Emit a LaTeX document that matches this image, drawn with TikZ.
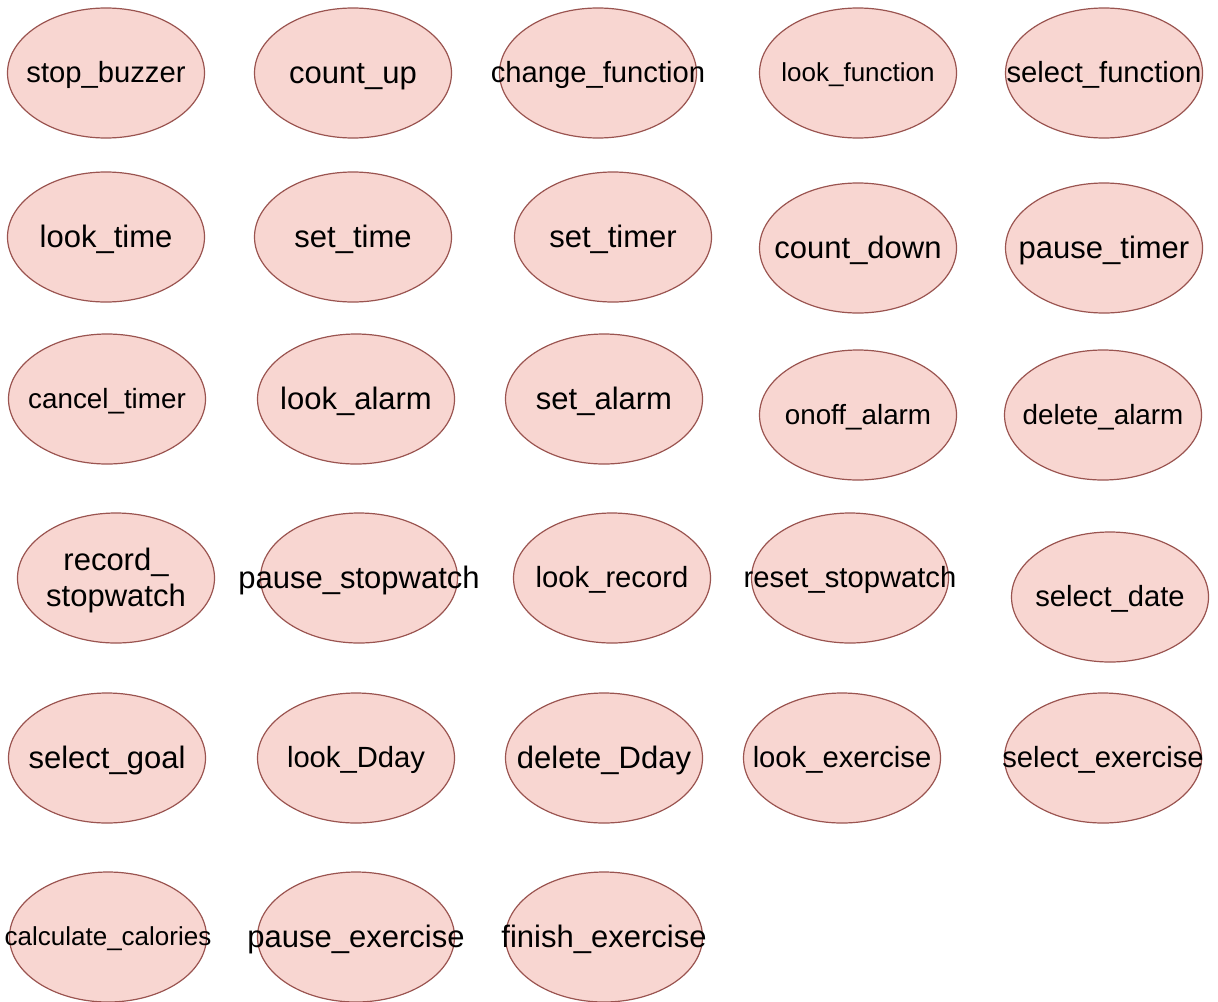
\documentclass[tikz,border=0pt]{standalone}
\usepackage{fontspec}
\setmainfont{Liberation Sans}
\usetikzlibrary{shapes.geometric}
\definecolor{ucfill}{HTML}{F8D6D1}
\definecolor{ucline}{HTML}{9A5450}
\newcommand{\uct}[1]{\makebox[0pt]{\raisebox{-0.33em}[0pt][0pt]{#1}}}
\tikzset{
	usecase/.style={ellipse,draw=ucline,fill=ucfill,line width=0.6pt,minimum width=98.5pt,minimum height=65pt,inner sep=0pt},
	fa/.style={font=\fontsize{13}{15}\selectfont},
	fb/.style={font=\fontsize{13.9}{16}\selectfont},
	fc/.style={font=\fontsize{14.6}{17}\selectfont},
	fd/.style={font=\fontsize{15.5}{18}\selectfont},
}
\begin{document}
\begin{tikzpicture}[x=0.5pt,y=-0.5pt]
					\useasboundingbox (0,0) rectangle (1218,1001);
					\node[usecase,fc] (sb) at (106,73) {\uct{stop\_buzzer}};
					\node[usecase,fd] (cu) at (353,73) {\uct{count\_up}};
					\node[usecase,fc] (cf) at (598,73) {\uct{change\_function}};
					\node[usecase,fa] (lf) at (858,73) {\uct{look\_function}};
					\node[usecase,fc] (sf) at (1104,73) {\uct{select\_function}};
					\node[usecase,fd] (lt) at (106,237) {\uct{look\_time}};
					\node[usecase,fd] (st) at (353,237) {\uct{set\_time}};
					\node[usecase,fd] (stm) at (613,237) {\uct{set\_timer}};
					\node[usecase,fd] (cd) at (858,248) {\uct{count\_down}};
					\node[usecase,fd] (pt) at (1104,248) {\uct{pause\_timer}};
					\node[usecase,fb] (ct) at (107,399) {\uct{cancel\_timer}};
					\node[usecase,fd] (la) at (356,399) {\uct{look\_alarm}};
					\node[usecase,fd] (sa) at (604,399) {\uct{set\_alarm}};
					\node[usecase,fb] (oa) at (858,415) {\uct{onoff\_alarm}};
					\node[usecase,fb] (da) at (1103,415) {\uct{delete\_alarm}};
					\node[usecase,fd] (rs) at (116,578) {\uct{\begin{tabular}{@{}c@{}}record\_\\stopwatch\end{tabular}}};
					\node[usecase,fd] (ps) at (359,578) {\uct{pause\_stopwatch}};
					\node[usecase,fc] (lr) at (612,578) {\uct{look\_record}};
					\node[usecase,fc] (rst) at (850,578) {\uct{reset\_stopwatch}};
					\node[usecase,fc] (sd) at (1110,597) {\uct{select\_date}};
					\node[usecase,fd] (sg) at (107,758) {\uct{select\_goal}};
					\node[usecase,fc] (ld) at (356,758) {\uct{look\_Dday}};
					\node[usecase,fd] (dd) at (604,758) {\uct{delete\_Dday}};
					\node[usecase,fc] (le) at (842,758) {\uct{look\_exercise}};
					\node[usecase,fc] (se) at (1103,758) {\uct{select\_exercise}};
					\node[usecase,fa] (cc) at (108,937) {\uct{calculate\_calories}};
					\node[usecase,fd] (pe) at (356,937) {\uct{pause\_exercise}};
					\node[usecase,fd] (fe) at (604,937) {\uct{finish\_exercise}};
				\end{tikzpicture}
\end{document}
